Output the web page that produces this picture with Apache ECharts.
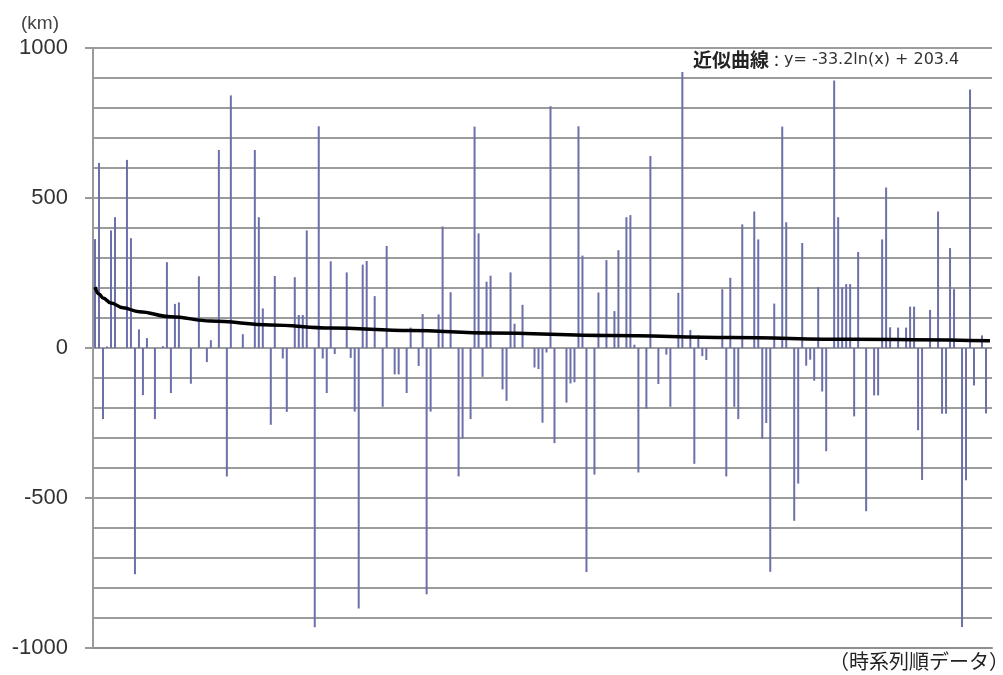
<!DOCTYPE html>
<html>
<head>
<meta charset="utf-8">
<script src="https://cdn.jsdelivr.net/npm/echarts@6/dist/echarts.min.js"></script>
<style>
html,body{margin:0;padding:0;background:#fff;}
#chart{width:1003px;height:675px;}
</style>
</head>
<body>
<div id="chart"></div>
<script>
// Distance values (km), in time-series order
const values = [
  363, 617, -237, 5, 392, 436, 0, 0, 627, 366,
  -754, 62, -157, 33, 0, -237, 0, 6, 286, -150,
  147, 152, 0, 0, -119, 0, 239, 0, -47, 26,
  0, 660, 0, -428, 842, 0, 0, 46, 0, 0,
  660, 436, 132, 0, -256, 240, 0, -35, -213, 0,
  236, 110, 110, 392, 0, -931, 739, -35, -150, 289,
  -20, 0, 0, 252, -33, -212, -868, 278, 290, 0,
  173, 0, -196, 340, 0, -88, -88, 0, -150, 68,
  0, -60, 113, -821, -212, 0, 112, 405, 0, 186,
  0, -428, -302, 0, -237, 738, 382, -96, 221, 241,
  0, 0, -138, -176, 252, 81, 0, 144, 0, 0,
  -65, -70, -249, -15, 806, -317, 0, 0, -182, -118,
  -114, 739, 308, -747, 0, -422, 185, 0, 293, 0,
  123, 326, 0, 436, 443, 11, -415, 0, -202, 640,
  0, -120, 0, -22, -196, 0, 184, 920, 0, 60,
  -386, 42, -27, -40, 0, 0, 0, 196, -428, 234,
  -196, -237, 412, 0, 0, 455, 362, -303, -250, -746,
  148, 0, 738, 419, 0, -576, -452, 350, -59, -39,
  -109, 203, -145, -344, 0, 892, 436, 202, 213, 213,
  -228, 320, 0, -544, 0, -158, -158, 362, 535, 69,
  0, 68, 0, 68, 138, 138, -274, -440, 0, 127,
  0, 455, -219, -219, 333, 196, 0, -930, -441, 862,
  -125, 0, 42, -218, 0
];
const categories = values.map((v, i) => String(i + 1));

// Trend line at sample category positions
const trendIndex = [0, 1, 2, 4, 7, 11, 19, 29, 44, 59, 79, 99, 129, 159, 189, 224];
const trendValue = [203, 180, 167, 150, 134, 121, 104, 90, 77, 67, 58, 50, 42, 35, 29, 24];

// Y axis ticks
const yMin = -1000, yMax = 1000, gridStep = 100, labelStep = 500;

const trendData = trendIndex.map((x, k) => [x, trendValue[k]]);

const chart = echarts.init(document.getElementById('chart'));
chart.setOption({
  animation: false,
  backgroundColor: '#ffffff',
  grid: { left: 93, right: 11, top: 48, bottom: 27 },
  xAxis: {
    type: 'category',
    data: categories,
    boundaryGap: true,
    axisLine: { show: true, onZero: false, lineStyle: { color: '#8f8f8f', width: 2 } },
    axisTick: { show: false },
    axisLabel: { show: false },
    splitLine: { show: false }
  },
  yAxis: [
    {
      type: 'value', min: yMin, max: yMax, interval: gridStep, position: 'left',
      axisLine: { show: false }, axisTick: { show: false }, axisLabel: { show: false },
      splitLine: { show: true, lineStyle: { color: '#9c9c9c', width: 2 } }
    },
    {
      type: 'value', min: yMin, max: yMax, interval: labelStep, position: 'left', offset: 0,
      axisLine: { show: true, lineStyle: { color: '#9a9a9a', width: 2 } },
      axisTick: { show: true, length: 8, lineStyle: { color: '#9a9a9a', width: 2 } },
      axisLabel: {
        show: true, margin: 25, fontSize: 22, color: '#333', fontFamily: 'Liberation Sans',
        formatter: (v) => String(v)
      },
      splitLine: { show: false }
    }
  ],
  series: [
    {
      type: 'bar',
      data: values,
      barWidth: 2,
      itemStyle: { color: '#6c70aa' },
      z: 2
    },
    {
      type: 'line',
      data: trendData,
      smooth: 0.4,
      smoothMonotone: 'x',
      showSymbol: false,
      symbol: 'none',
      lineStyle: { color: '#000000', width: 3.5 },
      z: 3
    }
  ],
  graphic: [
    {
      type: 'text', left: 21, top: 14,
      style: { text: '(km)', fontSize: 19, fill: '#444', fontFamily: 'Liberation Sans' }
    },
    {
      type: 'text', x: 693, y: 60,
      style: {
        text: '{a|近似曲線}{b|：}{c|y= -33.2ln(x) + 203.4}',
        verticalAlign: 'middle',
        rich: {
          a: { fontSize: 19, fontFamily: 'Noto Sans CJK JP', fontWeight: 'bold', fill: '#222' },
          b: { fontSize: 15, fontFamily: 'Noto Sans CJK JP', fill: '#222' },
          c: { fontSize: 16, fontFamily: 'DejaVu Sans', fill: '#333' }
        }
      }
    },
    {
      type: 'text', x: 1009, y: 661,
      style: {
        text: '（時系列順データ）', fontSize: 20, fontFamily: 'Noto Sans CJK JP',
        fill: '#222', align: 'right', verticalAlign: 'middle'
      }
    }
  ]
});
</script>
</body>
</html>
